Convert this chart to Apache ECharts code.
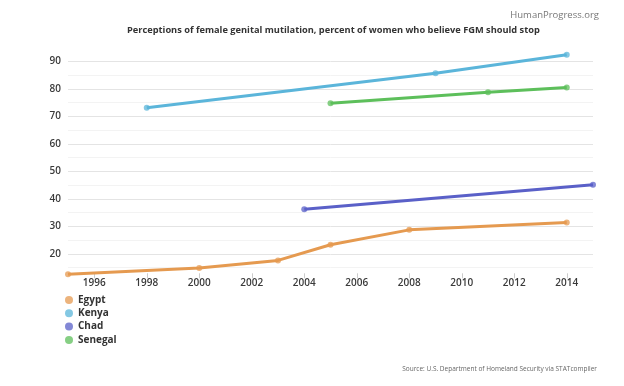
<!DOCTYPE html>
<html>
<head>
<meta charset="utf-8">
<script src="https://cdn.jsdelivr.net/npm/echarts@6/dist/echarts.min.js"></script>
<style>html,body{margin:0;padding:0;background:#fff;}#c{width:624px;height:386px;}</style>
</head>
<body>
<div id="c"></div>
<script>
var years = ['1995','1996','1997','1998','1999','2000','2001','2002','2003','2004','2005','2006','2007','2008','2009','2010','2011','2012','2013','2014','2015'];
var xTickLabels = ['1996','1998','2000','2002','2004','2006','2008','2010','2012','2014'];
var yTickLabels = [20,30,40,50,60,70,80,90];

var egyptYears = ['1995','2000','2003','2005','2008','2014'];
var egyptValues = [12.6,14.8,17.6,23.3,28.7,31.4];
var kenyaYears = ['1998','2009','2014'];
var kenyaValues = [73.1,85.6,92.4];
var chadYears = ['2004','2015'];
var chadValues = [36.2,45.1];
var senegalYears = ['2005','2011','2014'];
var senegalValues = [74.7,78.7,80.5];

var seriesNames = ['Egypt','Kenya','Chad','Senegal'];
var seriesColors = ['#E59A50','#5BB5DA','#5A60C8','#5DBF5B'];

function pairs(xs, vs){ return xs.map(function(x,i){ return [x, vs[i]]; }); }

var yMin = 10, yMax = 95, yStep = 5;
var gridColors = [];
for (var v = yMin; v <= yMax; v += yStep) {
  if (v < 20 && v !== 15 || v > 90) gridColors.push('rgba(0,0,0,0)');
  else if (v % 10 === 0) gridColors.push('#e4e4e4');
  else gridColors.push('#f3f3f3');
}

var dataSets = [pairs(egyptYears,egyptValues), pairs(kenyaYears,kenyaValues), pairs(chadYears,chadValues), pairs(senegalYears,senegalValues)];

var chart = echarts.init(document.getElementById('c'), null, {renderer:'canvas'});
var font = '"Open Sans", "Noto Sans", sans-serif';
function showYear(idx, val){ return xTickLabels.indexOf(String(val)) >= 0 || xTickLabels.indexOf(years[idx]) >= 0; }

chart.setOption({
  animation: false,
  backgroundColor: '#ffffff',
  title: [
    {text: 'Perceptions of female genital mutilation, percent of women who believe FGM should stop', left: 122, top: 21,
     textStyle: {fontFamily: font, fontSize: 9.25, fontWeight: 'bold', color: '#333'}},
    {text: 'HumanProgress.org', right: 20, top: 5,
     textStyle: {fontFamily: font, fontSize: 9.5, fontWeight: 'normal', color: '#777'}},
    {text: 'Source: U.S. Department of Homeland Security via STATcompiler', right: 22, bottom: 8,
     textStyle: {fontFamily: font, fontSize: 6.5, fontWeight: 'normal', color: '#666'}}
  ],
  grid: {left: 68, right: 31, top: 47.5, bottom: 104.7, containLabel: false},
  legend: {
    orient: 'vertical', left: 60, top: 290, icon: 'circle', itemWidth: 8, itemHeight: 8, itemGap: 3.3,
    data: seriesNames,
    textStyle: {fontFamily: font, fontSize: 10, fontWeight: 'bold', color: '#333'}
  },
  xAxis: {
    type: 'category', data: years, boundaryGap: false, offset: -8,
    axisLine: {show: false},
    axisTick: {show: true, length: 5, interval: showYear, lineStyle: {color: '#ccc'}},
    axisLabel: {interval: showYear, margin: 5, fontFamily: font, fontSize: 10, fontWeight: 600, color: '#3a3a3a'},
    splitLine: {show: false}
  },
  yAxis: {
    type: 'value', min: yMin, max: yMax, interval: yStep,
    axisLine: {show: false}, axisTick: {show: false},
    axisLabel: {margin: 7, fontFamily: font, fontSize: 10, fontWeight: 600, color: '#3a3a3a',
      formatter: function(v){ return yTickLabels.indexOf(v) >= 0 ? String(v) : ''; }},
    splitLine: {show: true, showMinLine: true, showMaxLine: true, lineStyle: {color: gridColors, width: 1}}
  },
  series: seriesNames.map(function(n, i){
    return {
      name: n, type: 'line', data: dataSets[i], clip: false,
      symbol: 'circle', symbolSize: 6,
      lineStyle: {width: 3, color: seriesColors[i]},
      itemStyle: {color: seriesColors[i], opacity: 0.75}
    };
  })
});
</script>
</body>
</html>
